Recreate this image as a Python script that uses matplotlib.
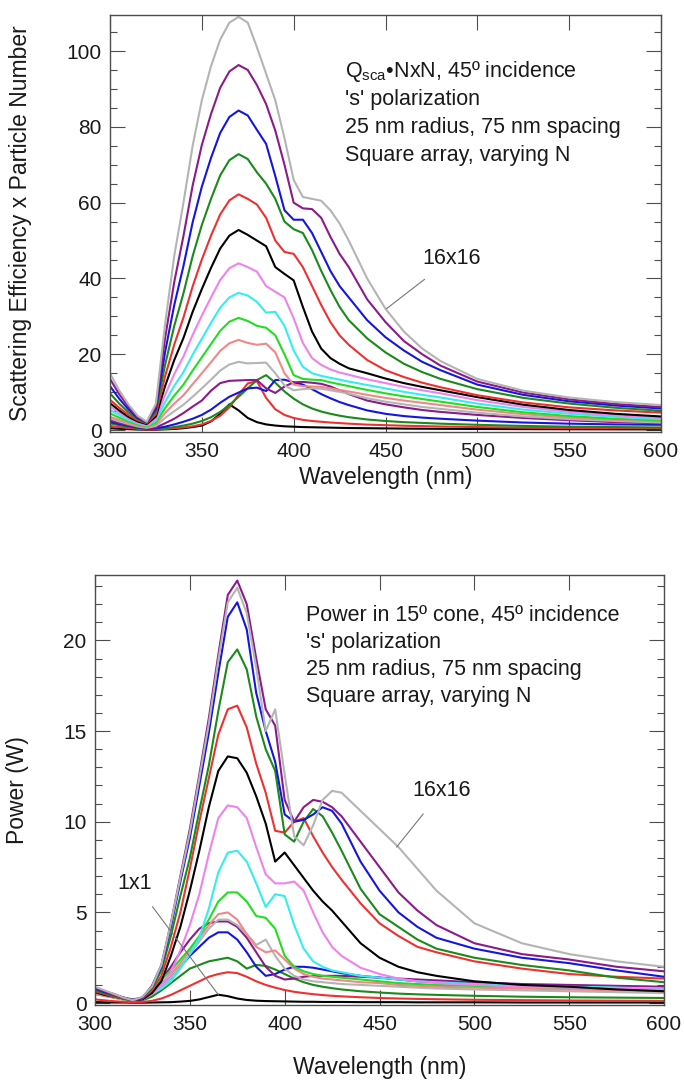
import matplotlib
matplotlib.use('Agg')
import matplotlib.pyplot as plt
from matplotlib.ticker import MultipleLocator

plt.rcParams['font.family'] = 'Liberation Sans'
plt.rcParams['mathtext.fontset'] = 'custom'
plt.rcParams['mathtext.rm'] = 'Liberation Sans'
plt.rcParams['mathtext.it'] = 'Liberation Sans:italic'

# Wavelength grid (nm) shared by every curve
wavelength = [300, 305, 310, 315, 320, 325, 330, 335, 340, 345, 350, 355, 360, 365,
              370, 375, 380, 385, 390, 395, 400, 405, 410, 415, 420, 425, 430,
              440, 450, 460, 470, 480, 500, 525, 550, 575, 600]

array_sizes = ['1x1', '2x2', '3x3', '4x4', '5x5', '6x6', '7x7', '8x8',
               '9x9', '10x10', '11x11', '12x12', '13x13', '14x14', '15x15', '16x16']

# colour cycle used by the original plotting program
line_colors = ['#000000', '#f03030', '#1a8a1a', '#1515e0', '#8b1a8b', '#b4b4b4',
               '#f08888', '#22dd22', '#33eeee', '#ee82ee',
               '#000000', '#f03030', '#1a8a1a', '#1515e0', '#8b1a8b', '#b4b4b4']

# Top panel: scattering efficiency x particle number, one row per array size
qsca_nxn = [
    [0.5, 0.35, 0.25, 0.15, 0.1, 0.1, 0.2, 0.3, 0.5, 0.8, 1.2, 2.3, 4.3, 6.8, 5.2, 3.2, 2.1, 1.5, 1.2, 1.0,
     0.9, 0.8, 0.75, 0.7, 0.65, 0.6, 0.55, 0.5, 0.45, 0.4, 0.37, 0.34, 0.3, 0.25, 0.22, 0.2, 0.18],
    [1.1, 0.8, 0.55, 0.35, 0.2, 0.2, 0.3, 0.5, 0.7, 1.0, 1.5, 2.4, 3.8, 6.0, 9.3, 12.3, 12.9, 8.5, 5.5, 4.0,
     3.2, 2.7, 2.4, 2.2, 2.0, 1.85, 1.7, 1.45, 1.3, 1.15, 1.05, 0.95, 0.8, 0.65, 0.55, 0.5, 0.45],
    [1.8, 1.3, 0.9, 0.5, 0.3, 0.3, 0.5, 0.8, 1.2, 1.7, 2.4, 3.4, 4.8, 6.6, 8.8, 11.0, 13.2, 14.5, 12.5, 10.2,
     8.3, 6.8, 5.7, 4.9, 4.3, 3.8, 3.4, 2.8, 2.4, 2.1, 1.9, 1.7, 1.4, 1.1, 0.9, 0.8, 0.7],
    [2.2, 1.6, 1.1, 0.7, 0.4, 0.5, 0.9, 1.5, 2.2, 3.0, 4.0, 5.4, 7.2, 8.8, 9.9, 11.0, 11.2, 10.3, 13.2, 13.3,
     12.6, 12.0, 10.8, 9.5, 8.4, 7.4, 6.6, 5.2, 4.3, 3.7, 3.3, 3.0, 2.5, 2.0, 1.7, 1.5, 1.4],
    [2.6, 1.9, 1.3, 0.8, 0.5, 0.7, 1.8, 3.0, 4.5, 6.2, 7.8, 10.4, 12.4, 13.0, 13.1, 13.2, 13.2, 11.0, 9.8, 11.5,
     12.6, 12.7, 12.5, 12.2, 11.5, 10.5, 9.5, 7.8, 6.8, 6.0, 5.3, 4.8, 4.0, 3.2, 2.6, 2.1, 1.8],
    [3.1, 2.3, 1.6, 1.0, 0.6, 1.1, 3.2, 5.0, 6.7, 8.8, 11.0, 13.3, 15.7, 17.3, 18.0, 17.6, 17.7, 17.8, 15.0, 11.8,
     10.5, 10.8, 11.0, 10.9, 10.5, 10.1, 9.6, 8.4, 7.5, 6.8, 6.1, 5.6, 4.6, 3.6, 2.9, 2.4, 2.0],
    [3.5, 2.7, 1.9, 1.2, 0.8, 1.5, 4.5, 7.0, 9.2, 12.1, 15.0, 17.9, 20.9, 22.9, 23.8, 23.0, 22.5, 22.8, 20.5, 15.0,
     12.0, 11.6, 11.5, 11.4, 11.0, 10.6, 10.2, 9.3, 8.5, 7.8, 7.2, 6.6, 5.4, 4.2, 3.3, 2.7, 2.3],
    [4.4, 3.3, 2.3, 1.5, 1.0, 2.0, 5.8, 9.1, 12.0, 15.7, 19.2, 22.7, 26.2, 28.6, 29.6, 28.8, 27.5, 27.0, 25.0, 20.0,
     14.5, 13.5, 13.3, 13.2, 12.6, 12.1, 11.6, 10.6, 9.7, 8.9, 8.2, 7.5, 6.1, 4.7, 3.7, 3.0, 2.6],
    [5.3, 4.0, 2.7, 1.8, 1.2, 2.5, 7.4, 11.7, 15.3, 19.9, 24.1, 28.3, 32.3, 35.0, 36.2, 35.5, 33.8, 31.0, 31.2, 27.5,
     21.0, 16.7, 15.0, 14.3, 13.8, 13.3, 12.8, 11.9, 11.0, 10.1, 9.3, 8.6, 7.0, 5.4, 4.3, 3.5, 2.9],
    [6.2, 4.6, 3.1, 2.0, 1.4, 3.0, 9.3, 14.8, 19.4, 25.1, 30.2, 35.0, 39.6, 42.7, 44.0, 43.0, 41.8, 38.0, 36.5, 35.0,
     29.5, 23.0, 19.0, 17.2, 16.0, 15.2, 14.6, 13.4, 12.4, 11.4, 10.5, 9.7, 7.9, 6.1, 4.8, 3.9, 3.2],
    [7.1, 5.2, 3.5, 2.3, 1.6, 3.6, 11.6, 18.5, 24.3, 31.2, 37.2, 42.8, 47.9, 51.3, 52.8, 51.5, 50.0, 48.5, 43.0, 41.2,
     39.5, 32.5, 26.0, 21.5, 19.0, 17.5, 16.3, 15.0, 13.6, 12.4, 11.4, 10.5, 8.7, 6.7, 5.3, 4.3, 3.6],
    [8.0, 5.9, 4.0, 2.6, 1.8, 4.2, 14.2, 22.6, 29.7, 37.9, 45.0, 51.3, 56.9, 60.6, 62.2, 61.0, 59.5, 56.0, 50.0, 47.0,
     46.5, 43.0, 38.0, 33.0, 28.5, 25.0, 22.5, 18.5, 15.8, 14.0, 12.5, 11.3, 9.2, 7.3, 6.0, 5.2, 4.6],
    [9.7, 7.0, 4.7, 2.9, 1.9, 4.9, 17.2, 27.5, 36.1, 45.9, 54.1, 61.0, 67.2, 71.2, 72.8, 71.5, 68.0, 65.0, 61.0, 55.0,
     53.0, 52.0, 47.5, 42.0, 37.0, 32.5, 29.0, 24.2, 20.5, 17.5, 15.3, 13.5, 10.8, 8.5, 7.0, 5.9, 5.1],
    [11.6, 8.3, 5.5, 3.2, 2.0, 5.6, 20.6, 33.0, 43.3, 54.8, 64.2, 71.8, 78.4, 82.6, 84.3, 83.0, 79.2, 75.5, 67.0, 58.0,
     55.5, 55.5, 52.0, 47.0, 42.0, 38.0, 35.0, 29.0, 24.5, 21.0, 18.0, 15.8, 12.0, 9.3, 7.6, 6.5, 5.7],
    [13.5, 9.5, 6.2, 3.5, 2.1, 6.2, 24.3, 39.1, 51.2, 64.5, 75.2, 83.4, 90.3, 94.6, 96.3, 95.0, 91.0, 86.0, 79.0, 70.0,
     60.0, 58.5, 58.3, 56.0, 51.0, 46.5, 43.0, 34.5, 28.5, 23.5, 20.0, 17.0, 12.8, 9.9, 8.1, 6.9, 6.1],
    [15.0, 10.5, 6.8, 3.8, 2.2, 7.0, 28.0, 46.0, 60.0, 75.0, 87.0, 96.0, 103.0, 107.5, 109.0, 107.5, 101.0, 94.0, 87.0, 77.0,
     66.0, 61.5, 61.0, 60.5, 58.0, 54.5, 50.0, 40.0, 32.0, 26.0, 21.5, 18.2, 13.5, 10.4, 8.6, 7.4, 6.6],
]

# Bottom panel: power (W) scattered into a 15 degree cone, one row per array size
power_nxn = [
    [0.05, 0.04, 0.03, 0.03, 0.02, 0.02, 0.03, 0.04, 0.05, 0.08, 0.12, 0.2, 0.33, 0.46, 0.38, 0.25, 0.17, 0.13, 0.11, 0.1,
     0.09, 0.08, 0.07, 0.07, 0.06, 0.06, 0.06, 0.05, 0.05, 0.05, 0.04, 0.04, 0.04, 0.03, 0.03, 0.03, 0.03],
    [0.2, 0.15, 0.1, 0.07, 0.05, 0.06, 0.12, 0.25, 0.45, 0.7, 0.95, 1.2, 1.45, 1.6, 1.7, 1.65, 1.45, 1.2, 1.0, 0.85,
     0.72, 0.62, 0.55, 0.49, 0.44, 0.4, 0.37, 0.32, 0.28, 0.25, 0.23, 0.21, 0.18, 0.16, 0.14, 0.13, 0.12],
    [0.5, 0.4, 0.3, 0.2, 0.12, 0.15, 0.35, 0.7, 1.1, 1.5, 1.9, 2.1, 2.3, 2.4, 2.5, 2.3, 1.9, 2.1, 2.05, 1.85,
     1.6, 1.35, 1.15, 1.0, 0.9, 0.82, 0.75, 0.65, 0.58, 0.52, 0.48, 0.45, 0.4, 0.35, 0.32, 0.3, 0.28],
    [0.7, 0.55, 0.4, 0.25, 0.15, 0.2, 0.5, 0.9, 1.4, 2.0, 2.6, 3.1, 3.6, 3.9, 3.9, 3.5, 2.8, 2.0, 1.5, 1.6,
     1.85, 2.0, 2.0, 1.95, 1.85, 1.75, 1.65, 1.5, 1.4, 1.3, 1.2, 1.15, 1.05, 0.95, 0.85, 0.8, 0.75],
    [0.8, 0.65, 0.5, 0.3, 0.2, 0.3, 0.7, 1.3, 2.0, 2.8, 3.5, 4.1, 4.4, 4.5, 4.5, 4.2, 3.6, 2.8, 2.0, 1.5,
     1.3, 1.35, 1.45, 1.5, 1.5, 1.5, 1.5, 1.45, 1.4, 1.35, 1.3, 1.25, 1.15, 1.05, 1.0, 0.95, 0.9],
    [0.55, 0.45, 0.35, 0.25, 0.15, 0.2, 0.5, 0.9, 1.4, 2.0, 2.7, 3.4, 4.1, 4.6, 4.6, 4.3, 3.8, 3.2, 3.5, 2.6,
     1.9, 1.5, 1.3, 1.2, 1.15, 1.1, 1.05, 1.0, 0.95, 0.9, 0.85, 0.8, 0.75, 0.7, 0.65, 0.6, 0.55],
    [0.5, 0.4, 0.3, 0.2, 0.15, 0.2, 0.6, 1.1, 1.6, 2.2, 2.9, 3.6, 4.3, 4.9, 5.0, 4.6, 3.8, 3.1, 2.8, 2.9,
     2.4, 1.9, 1.6, 1.45, 1.35, 1.3, 1.25, 1.15, 1.1, 1.0, 0.95, 0.9, 0.85, 0.8, 0.75, 0.7, 0.65],
    [0.6, 0.45, 0.35, 0.25, 0.15, 0.25, 0.8, 1.3, 1.8, 2.4, 3.0, 3.7, 4.6, 5.6, 6.1, 6.1, 5.6, 4.8, 4.7, 4.1,
     2.6, 2.0, 1.75, 1.6, 1.5, 1.45, 1.4, 1.3, 1.2, 1.1, 1.05, 1.0, 0.95, 0.9, 0.85, 0.8, 0.75],
    [0.65, 0.5, 0.35, 0.25, 0.15, 0.2, 0.5, 0.8, 1.2, 1.9, 2.7, 3.6, 5.2, 7.2, 8.3, 8.4, 7.8, 6.6, 5.3, 6.0,
     5.9, 4.3, 3.0, 2.3, 2.0, 1.8, 1.7, 1.5, 1.4, 1.3, 1.2, 1.15, 1.05, 0.95, 0.9, 0.85, 0.8],
    [0.6, 0.45, 0.35, 0.25, 0.15, 0.2, 0.5, 1.0, 1.7, 2.9, 4.3, 6.0, 8.2, 10.2, 10.9, 10.8, 10.2, 8.6, 7.1, 6.6,
     6.6, 6.7, 6.2, 5.0, 3.9, 3.1, 2.6, 1.95, 1.6, 1.35, 1.2, 1.1, 1.0, 0.9, 0.85, 0.8, 0.75],
    [0.6, 0.45, 0.35, 0.25, 0.15, 0.2, 0.55, 1.2, 2.6, 4.2, 6.2, 8.4, 10.8, 12.8, 13.6, 13.5, 12.7, 11.4, 9.9, 7.8,
     8.3, 7.6, 6.9, 6.2, 5.6, 5.1, 4.5, 3.3, 2.5, 2.0, 1.7, 1.5, 1.2, 1.0, 0.9, 0.75, 0.65],
    [0.65, 0.5, 0.35, 0.25, 0.15, 0.25, 0.7, 1.5, 3.1, 5.0, 7.4, 10.0, 12.4, 14.8, 16.2, 16.4, 15.2, 13.2, 11.6, 9.5,
     9.4, 10.0, 10.2, 9.2, 8.3, 7.5, 6.8, 5.5, 4.4, 3.7, 3.1, 2.8, 2.3, 1.9, 1.6, 1.45, 1.35],
    [0.7, 0.55, 0.4, 0.25, 0.15, 0.3, 0.8, 1.8, 3.7, 5.9, 8.0, 10.6, 13.1, 16.1, 18.8, 19.5, 18.4, 15.8, 14.0, 12.8,
     9.3, 8.9, 10.0, 10.7, 10.3, 9.4, 8.4, 6.3, 4.9, 4.2, 3.5, 3.0, 2.5, 2.1, 1.8, 1.4, 1.15],
    [0.8, 0.6, 0.45, 0.3, 0.15, 0.3, 0.9, 2.0, 4.2, 6.7, 9.1, 12.0, 14.9, 18.2, 21.3, 22.1, 20.6, 17.1, 15.0, 13.3,
     10.4, 10.0, 10.1, 10.4, 10.8, 10.6, 9.9, 7.8, 6.2, 5.0, 4.2, 3.6, 3.0, 2.5, 2.2, 1.8, 1.45],
    [0.85, 0.65, 0.45, 0.3, 0.15, 0.3, 0.95, 2.1, 4.4, 7.0, 9.6, 12.6, 15.7, 19.2, 22.5, 23.3, 22.0, 19.0, 16.2, 15.3,
     11.2, 10.0, 10.8, 11.2, 11.1, 10.8, 10.3, 8.9, 7.5, 6.1, 5.1, 4.3, 3.3, 2.7, 2.4, 2.0, 1.75],
    [0.9, 0.7, 0.5, 0.3, 0.15, 0.35, 0.9, 2.1, 4.4, 6.9, 9.4, 12.4, 15.4, 18.9, 22.1, 22.9, 21.5, 18.5, 15.0, 16.2,
     12.6, 9.2, 8.7, 9.8, 11.2, 11.7, 11.6, 10.6, 9.6, 8.6, 7.4, 6.2, 4.4, 3.3, 2.7, 2.3, 2.0],
]

text_color = '#1a1a1a'
frame_color = '#4d4d4d'


def style_axes(ax, ymajor, yminor):
    ax.set_xlim(300, 600)
    ax.xaxis.set_major_locator(MultipleLocator(50))
    ax.yaxis.set_major_locator(MultipleLocator(ymajor))
    ax.yaxis.set_minor_locator(MultipleLocator(yminor))
    ax.tick_params(which='both', direction='in', top=True, right=True,
                   width=0.8, color=frame_color, labelcolor=text_color, labelsize=15)
    ax.tick_params(which='major', length=11)
    ax.tick_params(axis='x', which='major', pad=7)
    ax.tick_params(axis='y', which='major', pad=6)
    ax.tick_params(which='minor', length=5)
    for spine in ax.spines.values():
        spine.set_linewidth(1.0)
        spine.set_color(frame_color)
    ax.set_xlabel('Wavelength (nm)', fontsize=16.5, color=text_color)


fig = plt.figure(figsize=(6.84, 10.8), dpi=100)
ax1 = fig.add_axes([0.1608, 0.6, 0.8056, 0.3861])
ax2 = fig.add_axes([0.1389, 0.0694, 0.8319, 0.3981])

for values, color in zip(qsca_nxn, line_colors):
    ax1.plot(wavelength, values, color=color, lw=1.5, solid_joinstyle='round')
for values, color in zip(power_nxn, line_colors):
    ax2.plot(wavelength, values, color=color, lw=1.5, solid_joinstyle='round')

# --- top panel ---
style_axes(ax1, 20, 5)
ax1.set_ylim(-0.5, 109.5)
ax1.set_ylabel('Scattering Efficiency x Particle Number', fontsize=16.5, color=text_color)
ax1.yaxis.set_label_coords(-0.141, 0.5)
ax1.xaxis.set_label_coords(0.5, -0.082)

top_lines = ['Q$_\\mathregular{sca}$•NxN, 45º incidence', "'s' polarization",
             '25 nm radius, 75 nm spacing', 'Square array, varying N']
for i, line in enumerate(top_lines):
    ax1.text(0.4265, 0.852 - i * 0.067, line, transform=ax1.transAxes,
             fontsize=15.5, color=text_color, va='baseline', ha='left')

ax1.annotate(array_sizes[-1], xy=(450.5, qsca_nxn[-1][28]), xytext=(486, 45.3),
             fontsize=15.5, color=text_color, ha='center', va='center',
             arrowprops=dict(arrowstyle='-', color='#777777', lw=0.8, shrinkA=9, shrinkB=0))

# --- bottom panel ---
style_axes(ax2, 5, 1)
ax2.set_ylim(-0.11, 23.6)
ax2.set_ylabel('Power (W)', fontsize=16.5, color=text_color)
ax2.yaxis.set_label_coords(-0.116, 0.5)
ax2.xaxis.set_label_coords(0.5, -0.118)

bottom_lines = ['Power in 15º cone, 45º incidence', "'s' polarization",
                '25 nm radius, 75 nm spacing', 'Square array, varying N']
for i, line in enumerate(bottom_lines):
    ax2.text(0.371, 0.893 - i * 0.063, line, transform=ax2.transAxes,
             fontsize=15.5, color=text_color, va='baseline', ha='left')

ax2.annotate(array_sizes[-1], xy=(459, power_nxn[-1][29]), xytext=(482.8, 11.7),
             fontsize=15.5, color=text_color, ha='center', va='center',
             arrowprops=dict(arrowstyle='-', color='#777777', lw=0.8, shrinkA=9, shrinkB=0))
ax2.annotate(array_sizes[0], xy=(365, power_nxn[0][13]), xytext=(321.1, 6.6),
             fontsize=15.5, color=text_color, ha='center', va='center',
             arrowprops=dict(arrowstyle='-', color='#777777', lw=0.8, shrinkA=9, shrinkB=0))

fig.savefig('out.png', dpi=100, facecolor='white')
plt.close(fig)
